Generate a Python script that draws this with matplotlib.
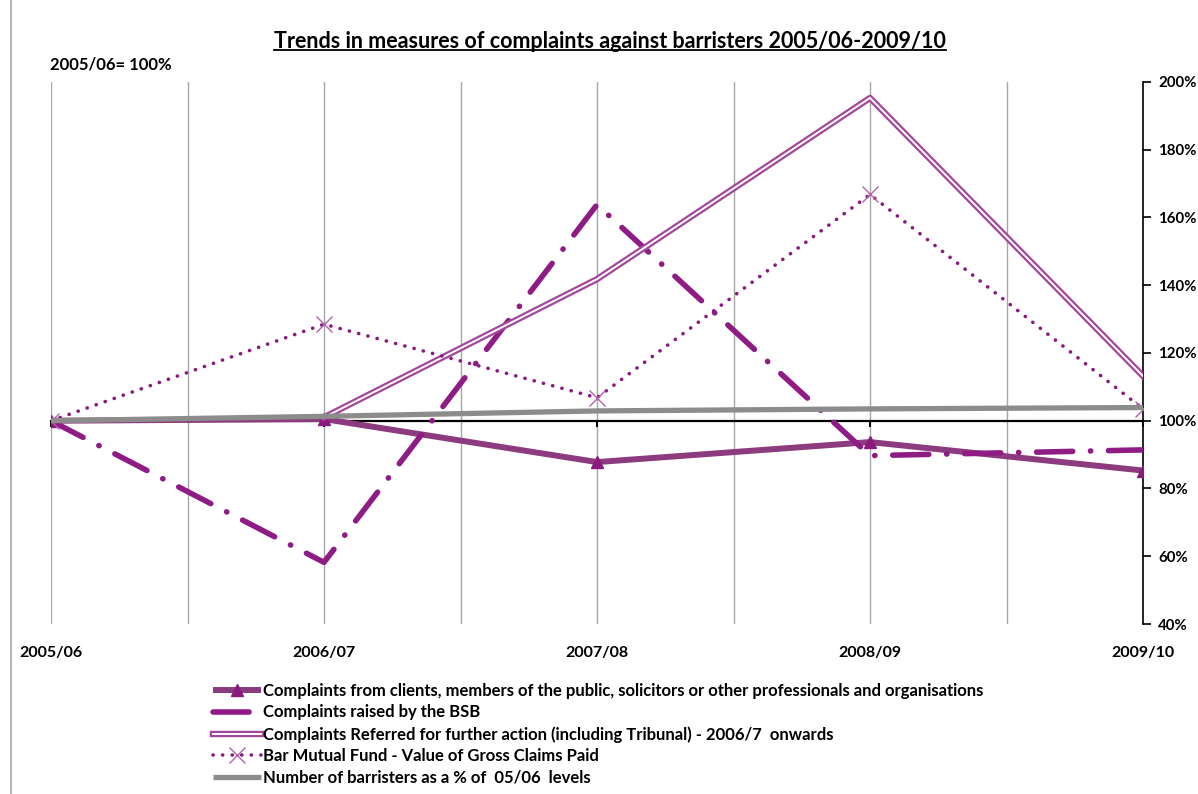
import numpy as np
import matplotlib
matplotlib.use("Agg")
import matplotlib.pyplot as plt
import matplotlib.patheffects as pe
from matplotlib.ticker import PercentFormatter
from matplotlib.lines import Line2D

plt.rcParams['font.family'] = ['Lato', 'DejaVu Sans']

categories = ['2005/06', '2006/07', '2007/08', '2008/09', '2009/10']
clients = [100, 100.5, 87.8, 93.7, 85.3]
bsb = [100, 58.2, 163.8, 89.7, 91.4]
referred = [np.nan, 101.0, 141.8, 195.3, 113.2]
bar_mutual = [100, 128.5, 106.8, 166.8, 103.5]
barristers = [100, 101.3, 102.9, 103.5, 103.9]

labels = [
    'Complaints from clients, members of the public, solicitors or other professionals and organisations',
    'Complaints raised by the BSB',
    'Complaints Referred for further action (including Tribunal) - 2006/7  onwards',
    'Bar Mutual Fund - Value of Gross Claims Paid',
    'Number of barristers as a % of  05/06  levels',
]
title = 'Trends in measures of complaints against barristers 2005/06-2009/10'
base_note = '2005/06= 100%'
y_ticks = [40, 60, 80, 100, 120, 140, 160, 180, 200]

W, H = 1198, 794
fig = plt.figure(figsize=(W / 100, H / 100), dpi=100)
ax = fig.add_axes([51 / W, 1 - 624 / H, (1143 - 51) / W, (624 - 82) / H])

x = np.arange(len(categories))

# vertical gridlines (categories and midpoints)
for gx in np.arange(0, len(categories) - 0.5, 0.5):
    ax.axvline(gx, color='#A6A6A6', lw=1.0, zorder=0)

l1, = ax.plot(x, clients, color='#8C3B7E', lw=4.3, marker='^', ms=9,
              mfc='#8B1A80', mec='#8B1A80', solid_capstyle='butt', zorder=3,
              label=labels[0])
l2, = ax.plot(x, bsb, color='#8E1C84', lw=4.0, dash_capstyle='round',
              dashes=(6.5, 3.2, 0.05, 3.2), zorder=4, label=labels[1])
l3, = ax.plot(x, referred, color='white', lw=1.4, zorder=5, label=labels[2],
              path_effects=[pe.Stroke(linewidth=4.6, foreground='#A3479C'), pe.Normal()])
l4, = ax.plot(x, bar_mutual, color='#8B1A80', lw=2.6, dash_capstyle='round',
              dashes=(0.05, 2.6), marker='x', ms=12, mew=1.0, mec='#B363AD',
              zorder=6, label=labels[3])
l5, = ax.plot(x, barristers, color='#8C8C8C', lw=3.8, solid_capstyle='butt',
              zorder=7, label=labels[4])

ax.set_xlim(0, len(categories) - 1)
ax.set_ylim(40, 200)

# right value axis
for s in ['left', 'top', 'bottom']:
    ax.spines[s].set_visible(False)
ax.spines['right'].set_color('black')
ax.spines['right'].set_linewidth(1.2)
ax.yaxis.tick_right()
ax.set_yticks(y_ticks)
ax.yaxis.set_major_formatter(PercentFormatter(decimals=0))
ax.tick_params(axis='y', direction='out', length=6, width=1.2, pad=5,
               labelsize=10.8, colors='black')
for t in ax.get_yticklabels():
    t.set_fontweight('bold')

# category labels at bottom
ax.set_xticks(x)
ax.set_xticklabels(categories, fontsize=11.5, fontweight='bold')
ax.tick_params(axis='x', length=0, pad=16)

# horizontal category axis crossing at 100%
sec = ax.secondary_xaxis((100 - 40) / (200 - 40))
sec.set_xticks(x)
sec.set_xticklabels([])
sec.spines['bottom'].set_color('black')
sec.spines['bottom'].set_linewidth(1.6)
sec.tick_params(axis='x', direction='out', length=4, width=1.4)

# chart-area border on the left
fig.add_artist(Line2D([11 / W, 11 / W], [0, 1], transform=fig.transFigure,
                      color='#A6A6A6', lw=1.2))

# title with underline
t = fig.text(610 / W, 1 - 41 / H, title, ha='center', va='center',
             fontsize=15.5, fontweight='bold')
fig.text(50 / W, 1 - 65 / H, base_note, ha='left', va='center',
         fontsize=12, fontweight='bold')

fig.legend(handles=[l1, l2, l3, l4, l5], loc='upper left',
           bbox_to_anchor=(213 / W, 1 - 683 / H), frameon=False,
           prop={'weight': 'bold', 'size': 12},
           handlelength=2.85, handletextpad=0.15, labelspacing=0.33,
           numpoints=1, borderaxespad=0, borderpad=0)

fig.canvas.draw()
bb = t.get_window_extent()
uy = bb.y0 + 2
fig.add_artist(Line2D([bb.x0 / W, bb.x1 / W], [uy / H, uy / H],
                      transform=fig.transFigure, color='black', lw=1.3))

fig.savefig('out.png', dpi=100)
